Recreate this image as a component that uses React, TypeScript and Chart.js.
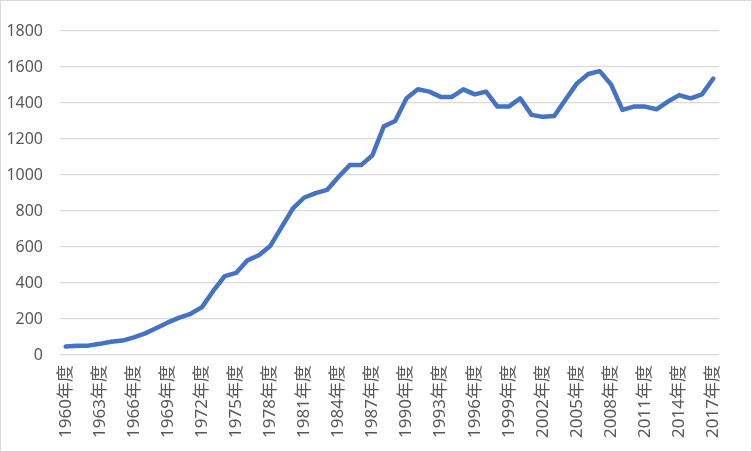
import React, { useEffect, useRef } from "react";
import { Chart, registerables } from "chart.js";

Chart.register(...registerables);

// 年度ラベル (1960-2017)
const years = [
  "1960年度", "1961年度", "1962年度", "1963年度", "1964年度", "1965年度",
  "1966年度", "1967年度", "1968年度", "1969年度", "1970年度", "1971年度",
  "1972年度", "1973年度", "1974年度", "1975年度", "1976年度", "1977年度",
  "1978年度", "1979年度", "1980年度", "1981年度", "1982年度", "1983年度",
  "1984年度", "1985年度", "1986年度", "1987年度", "1988年度", "1989年度",
  "1990年度", "1991年度", "1992年度", "1993年度", "1994年度", "1995年度",
  "1996年度", "1997年度", "1998年度", "1999年度", "2000年度", "2001年度",
  "2002年度", "2003年度", "2004年度", "2005年度", "2006年度", "2007年度",
  "2008年度", "2009年度", "2010年度", "2011年度", "2012年度", "2013年度",
  "2014年度", "2015年度", "2016年度", "2017年度",
];

const values = [
  47, 51, 52, 62, 74, 80, 98, 120, 150, 181,
  208, 229, 266, 357, 438, 456, 526, 554, 605, 710,
  814, 875, 899, 917, 989, 1055, 1055, 1110, 1270, 1300,
  1426, 1476, 1463, 1434, 1434, 1476, 1448, 1463, 1380, 1380,
  1426, 1334, 1323, 1328, 1420, 1509, 1561, 1577, 1503, 1362,
  1380, 1380, 1365, 1408, 1444, 1426, 1448, 1536,
];

// 3年おきにラベル表示
const labelStep = 3;

const yMin = 0;
const yMax = 1800;
const yStep = 200;

const FONT = "'Noto Sans', 'Noto Sans CJK JP', sans-serif";

const LineChart = () => {
  const chartRef = useRef<HTMLCanvasElement | null>(null);

  useEffect(() => {
    if (!chartRef.current) return;

    const chart = new Chart(chartRef.current, {
      type: "line",
      data: {
        labels: years,
        datasets: [
          {
            data: values,
            borderColor: "#4472C4",
            borderWidth: 4.5,
            pointRadius: 0,
            tension: 0,
            borderJoinStyle: "round",
            borderCapStyle: "round",
            fill: false,
          },
        ],
      },
      options: {
        animation: false,
        responsive: false,
        devicePixelRatio: 1,
        layout: { padding: { left: 0, top: 30, right: 32, bottom: 0 } },
        plugins: {
          legend: { display: false },
          tooltip: { enabled: false },
        },
        scales: {
          x: {
            offset: true,
            grid: { display: false, drawTicks: false },
            border: { display: false },
            ticks: {
              autoSkip: false,
              minRotation: 90,
              maxRotation: 90,
              padding: 10,
              color: "#595959",
              font: { family: FONT, size: 17 },
              callback: (_v, i) => (i % labelStep === 0 ? years[i] : ""),
            },
            afterFit: (scale) => {
              scale.height = 96;
            },
          },
          y: {
            min: yMin,
            max: yMax,
            grid: { color: "#d9d9d9", lineWidth: 1.3, drawTicks: false },
            border: { display: false },
            ticks: {
              stepSize: yStep,
              padding: 17,
              color: "#595959",
              font: { family: FONT, size: 16 },
              callback: (v) => String(v),
            },
            afterFit: (scale) => {
              scale.width = 59;
            },
          },
        },
      },
    });

    return () => {
      chart.destroy();
    };
  }, []);

  return <canvas ref={chartRef} width={750} height={450} />;
};

export default function App() {
  return (
    <div
      style={{
        position: "absolute",
        left: 0,
        top: 0,
        width: 752,
        height: 452,
        boxSizing: "border-box",
        border: "1px solid #d9d9d9",
        background: "#fff",
      }}
    >
      <LineChart />
    </div>
  );
}
